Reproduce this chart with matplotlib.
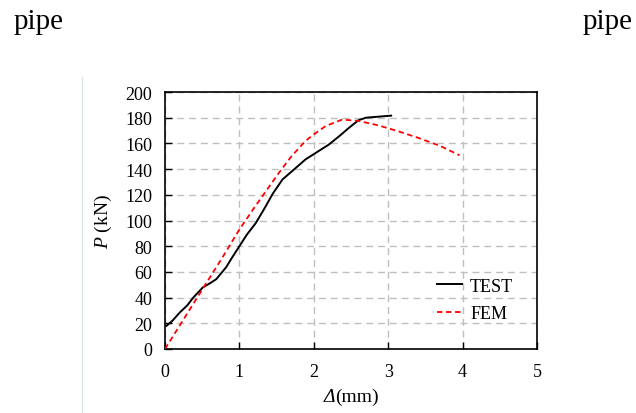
import matplotlib
matplotlib.use("Agg")
import matplotlib.pyplot as plt
from matplotlib.lines import Line2D

plt.rcParams['font.family'] = ['Liberation Serif', 'DejaVu Serif']
plt.rcParams['mathtext.fontset'] = 'custom'
plt.rcParams['mathtext.rm'] = 'Liberation Serif'
plt.rcParams['mathtext.it'] = 'Liberation Serif:italic'

test_x = [0.02, 0.1, 0.2, 0.3, 0.38, 0.51, 0.6, 0.69, 0.82, 0.9, 1.0, 1.1, 1.22,
          1.33, 1.45, 1.58, 1.72, 1.89, 2.05, 2.2, 2.35, 2.47, 2.6, 2.7, 3.04]
test_p = [18, 22, 28.5, 34, 40, 48, 51, 54.4, 63.5, 71, 80, 89, 98,
          108.7, 121, 132, 139, 147.6, 153.5, 159, 166, 172, 178, 180, 181.6]

fem_x = [0.0, 0.53, 0.78, 1.0, 1.2, 1.53, 1.7, 1.89, 2.0, 2.16, 2.38, 2.6, 2.87,
         3.13, 3.4, 3.7, 3.96]
fem_p = [0, 49, 72, 93, 110, 137, 150, 162, 167, 173.5, 178.5, 177.5, 174,
         169.5, 164.4, 158, 150.7]

x_ticks = [0, 1, 2, 3, 4, 5]
y_ticks = list(range(0, 201, 20))

fig = plt.figure(figsize=(6.36, 4.14), dpi=100)
ax = fig.add_axes([165/636, 1-350/414, (537-165)/636, (350-93)/414])

ax.plot(test_x, test_p, color='black', lw=1.4, label='TEST', zorder=3)
ax.plot(fem_x, fem_p, color='#ff0000', lw=1.3, ls=(0, (3, 2)), label='FEM', zorder=3)

ax.set_xlim(0, 5)
ax.set_ylim(0, 200)
ax.set_xticks(x_ticks)
ax.set_yticks(y_ticks)
ax.grid(True, color='#bfbfbf', ls=(0, (5, 3.5)), lw=1.0)
ax.tick_params(direction='in', length=5, width=1, labelsize=13)
ax.tick_params(axis='y', pad=9)
ax.tick_params(axis='x', pad=10)
for s in ax.spines.values():
    s.set_linewidth(1.2)

# x label: italic Delta followed by upright (mm)
split_x = 335/636
base_y = 1 - 402/414
fig.text(split_x, base_y, 'Δ', fontsize=14, fontstyle='italic', ha='right', va='baseline')
fig.text(split_x, base_y, '(mm)', fontsize=14, ha='left', va='baseline')
ax.set_ylabel(r'$\mathit{P}$ (kN)', fontsize=14, labelpad=8)

leg = ax.legend(loc='lower right', bbox_to_anchor=(0.98, 0.04), frameon=False,
                fontsize=13, handlelength=1.4, handletextpad=0.45, labelspacing=0.6)

fig.text(14/636, 1-29/414, 'pipe', fontsize=21, ha='left', va='baseline')
fig.text(633/636, 1-29/414, 'pipe', fontsize=21, ha='right', va='baseline')

fig.add_artist(Line2D([82/636, 82/636], [0, 1-78/414], transform=fig.transFigure,
                      color='#dde8dd', lw=1))

fig.savefig('out.png', dpi=100)
